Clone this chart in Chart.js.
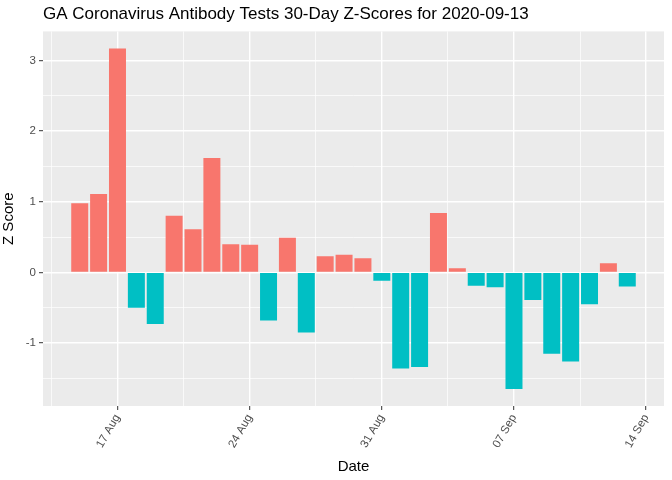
<!DOCTYPE html>
<html>
<head>
<meta charset="utf-8">
<script src="https://cdn.jsdelivr.net/npm/chart.js@4"></script>
<style>
html,body{margin:0;padding:0;background:#fff;}
#wrap{width:672px;height:480px;}
</style>
</head>
<body>
<div id="wrap"><canvas id="c" width="672" height="480"></canvas></div>
<script>
const titleText = "GA Coronavirus Antibody Tests 30-Day Z-Scores for 2020-09-13";
const dates = ["2020-08-15","2020-08-16","2020-08-17","2020-08-18","2020-08-19","2020-08-20","2020-08-21","2020-08-22","2020-08-23","2020-08-24",
  "2020-08-25","2020-08-26","2020-08-27","2020-08-28","2020-08-29","2020-08-30","2020-08-31","2020-09-01","2020-09-02","2020-09-03",
  "2020-09-04","2020-09-05","2020-09-06","2020-09-07","2020-09-08","2020-09-09","2020-09-10","2020-09-11","2020-09-12","2020-09-13"];
const zScores = [0.98, 1.11, 3.17, -0.50, -0.73, 0.80, 0.61, 1.62, 0.40, 0.39,
  -0.68, 0.49, -0.85, 0.23, 0.25, 0.20, -0.12, -1.36, -1.34, 0.84,
  0.06, -0.19, -0.21, -1.65, -0.39, -1.15, -1.26, -0.45, 0.13, -0.20];
const baseDate = "2020-08-17";
const xTickDates = ["2020-08-17","2020-08-24","2020-08-31","2020-09-07","2020-09-14"];
const xTickLabels = ["17 Aug","24 Aug","31 Aug","07 Sep","14 Sep"];
const yTickValues = [-1.5,-1,-0.5,0,0.5,1,1.5,2,2.5,3];
const yTickLabels = {"-1":"-1","0":"0","1":"1","2":"2","3":"3"};

const DAY = 86400000;
const dayOf = d => (Date.parse(d) - Date.parse(baseDate)) / DAY;
const xs = dates.map(dayOf);
const xMajor = xTickDates.map(dayOf);
const xTicksAll = [];
for (let i = 0; i < xMajor.length; i++) {
  xTicksAll.push(xMajor[i] - 3.5);
  xTicksAll.push(xMajor[i]);
}
const xMin = Math.min(...xs) - 0.45, xMax = Math.max(...xs) + 0.45;
const xPad = (xMax - xMin) * 0.05;
const yMinD = Math.min(0, ...zScores), yMaxD = Math.max(0, ...zScores);
const yPad = (yMaxD - yMinD) * 0.05;

const pos = '#F8766D', neg = '#00BFC4';

const panelBg = {
  id: 'panelBg',
  beforeDraw(chart) {
    const a = chart.chartArea, ctx = chart.ctx;
    ctx.save();
    ctx.fillStyle = '#EBEBEB';
    ctx.fillRect(a.left, a.top, a.right - a.left, a.bottom - a.top);
    ctx.restore();
  }
};

const isMajorX = v => xMajor.includes(v);
const isMajorY = v => Number.isInteger(v);

new Chart(document.getElementById('c'), {
  type: 'bar',
  data: {
    datasets: [{
      data: xs.map((x, i) => ({x: x, y: zScores[i]})),
      backgroundColor: zScores.map(v => v >= 0 ? pos : neg),
      borderWidth: 0,
      barPercentage: 0.9,
      categoryPercentage: 1.0
    }]
  },
  options: {
    responsive: false,
    animation: false,
    devicePixelRatio: 1,
    layout: {padding: {left: 0, right: 8, top: 0, bottom: 0}},
    plugins: {
      legend: {display: false},
      tooltip: {enabled: false},
      title: {
        display: true,
        text: titleText,
        align: 'start',
        fullSize: false,
        color: '#000',
        font: {family: 'Liberation Sans', size: 17, weight: 'normal'},
        padding: {top: 4, bottom: 7}
      }
    },
    scales: {
      x: {
        type: 'linear',
        min: xMin - xPad,
        max: xMax + xPad,
        offset: false,
        afterBuildTicks: s => { s.ticks = xTicksAll.map(v => ({value: v})); },
        afterFit: s => { s.height = 74; },
        grid: {
          offset: false,
          color: '#FFFFFF',
          lineWidth: c => (c.tick && isMajorX(c.tick.value)) ? 1.4 : 0.7,
          tickColor: c => (c.tick && isMajorX(c.tick.value)) ? '#333333' : 'rgba(0,0,0,0)',
          tickWidth: 1,
          tickLength: 4,
          drawTicks: true
        },
        border: {display: false},
        ticks: {
          autoSkip: false,
          maxRotation: 60,
          minRotation: 60,
          padding: 2,
          color: '#4D4D4D',
          font: {family: 'Liberation Sans', size: 11.5},
          callback: v => { const i = xMajor.indexOf(v); return i >= 0 ? xTickLabels[i] : ''; }
        },
        title: {
          display: true,
          text: 'Date',
          color: '#000',
          font: {family: 'Liberation Sans', size: 15},
          padding: {top: 0, bottom: 4}
        }
      },
      y: {
        type: 'linear',
        min: yMinD - yPad,
        max: yMaxD + yPad,
        afterBuildTicks: s => { s.ticks = yTickValues.map(v => ({value: v})); },
        afterFit: s => { s.width = 43; },
        grid: {
          color: '#FFFFFF',
          lineWidth: c => (c.tick && isMajorY(c.tick.value)) ? 1.4 : 0.7,
          tickColor: c => (c.tick && isMajorY(c.tick.value)) ? '#333333' : 'rgba(0,0,0,0)',
          tickWidth: 1,
          tickLength: 4,
          drawTicks: true
        },
        border: {display: false},
        ticks: {
          autoSkip: false,
          padding: 3,
          color: '#4D4D4D',
          font: {family: 'Liberation Sans', size: 11.5},
          callback: v => yTickLabels[String(v)] || ''
        },
        title: {
          display: true,
          text: 'Z Score',
          color: '#000',
          font: {family: 'Liberation Sans', size: 15},
          padding: {top: 0, bottom: 4}
        }
      }
    }
  },
  plugins: [panelBg]
});
</script>
</body>
</html>
